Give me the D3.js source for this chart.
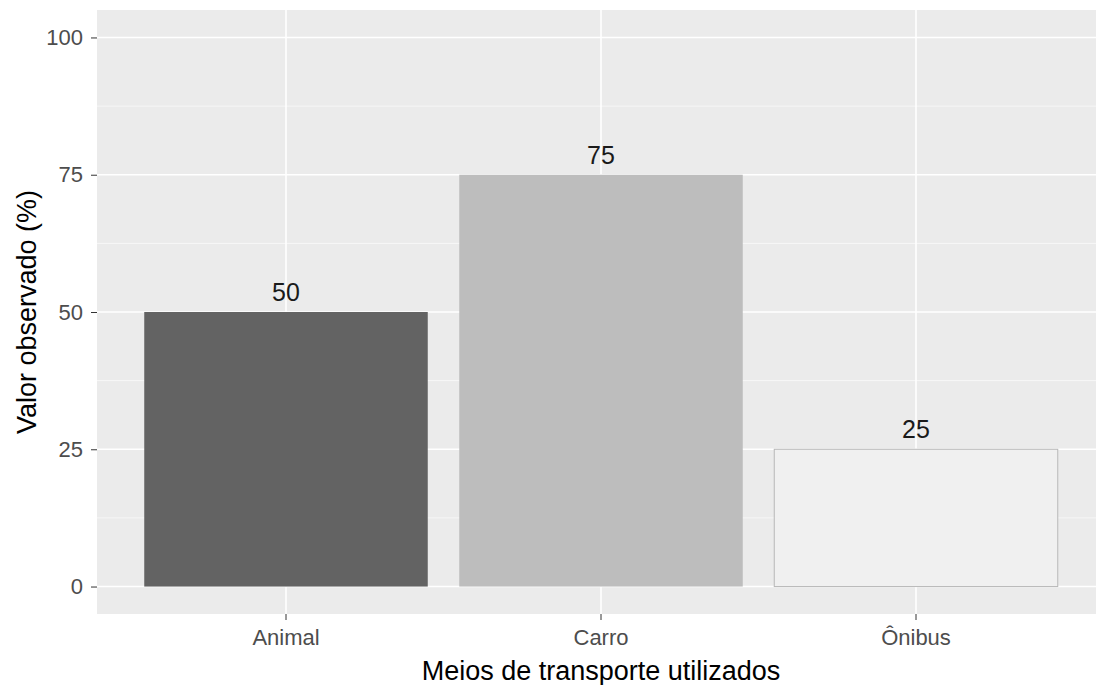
<!DOCTYPE html>
<html><head><meta charset="utf-8">
<script src="https://cdn.jsdelivr.net/npm/d3@7"></script>
<style>body{margin:0;background:#fff;}svg{display:block;font-family:"Liberation Sans",Arial,sans-serif;}</style>
</head><body>
<svg id="c" width="1096" height="685"></svg>
<script>
const categories = ["Animal", "Carro", "Ônibus"];
const values = [50, 75, 25];
const yTicks = [0, 25, 50, 75, 100];
const yMinor = [12.5, 37.5, 62.5, 87.5];
const fills = ["#636363", "#bdbdbd", "#f0f0f0"];
const xTitle = "Meios de transporte utilizados";
const yTitle = "Valor observado (%)";

const svg = d3.select("#c");
const L = 97, T = 10, B = 614, R = 1105;
const y = d3.scaleLinear().domain([-5, 105]).range([B, T]);
const step = (R - L) / 3.2;
const x = d3.scaleBand().domain(categories).range([L + 0.1 * step, R - 0.1 * step]).paddingInner(0.1).paddingOuter(0.05);

svg.append("rect").attr("x", L).attr("y", T).attr("width", R - L).attr("height", B - T).attr("fill", "#ebebeb");
const g = svg.append("g");
g.selectAll(".mn").data(yMinor).join("line").attr("x1", L).attr("x2", R)
  .attr("y1", d => y(d)).attr("y2", d => y(d)).attr("stroke", "#fff").attr("stroke-width", 0.8).attr("opacity", 0.8);
g.selectAll(".mj").data(yTicks).join("line").attr("x1", L).attr("x2", R)
  .attr("y1", d => y(d)).attr("y2", d => y(d)).attr("stroke", "#fff").attr("stroke-width", 1.6);
g.selectAll(".vx").data(categories).join("line").attr("y1", T).attr("y2", B)
  .attr("x1", d => x(d) + x.bandwidth() / 2).attr("x2", d => x(d) + x.bandwidth() / 2).attr("stroke", "#fff").attr("stroke-width", 1.6);

svg.selectAll(".bar").data(categories).join("rect")
  .attr("x", d => x(d)).attr("width", x.bandwidth())
  .attr("y", (d, i) => y(values[i])).attr("height", (d, i) => y(0) - y(values[i]))
  .attr("fill", (d, i) => fills[i])
  .attr("stroke", (d, i) => i === 2 ? "#b8b8b8" : "none").attr("stroke-width", 1);

svg.selectAll(".lbl").data(categories).join("text")
  .attr("x", d => x(d) + x.bandwidth() / 2).attr("y", (d, i) => y(values[i]) - 11)
  .attr("text-anchor", "middle").attr("font-size", 25).attr("fill", "#1a1a1a")
  .text((d, i) => values[i]);

const ya = svg.append("g").attr("transform", `translate(${L},0)`)
  .call(d3.axisLeft(y).tickValues(yTicks).tickSize(6).tickPadding(8));
ya.select(".domain").remove();
ya.selectAll("line").attr("stroke", "#333");
ya.selectAll("text").attr("font-size", 22).attr("fill", "#4d4d4d").attr("font-family", "Liberation Sans, Arial, sans-serif");

const xa = svg.append("g").attr("transform", `translate(0,${B})`)
  .call(d3.axisBottom(x).tickSize(6).tickPadding(9));
xa.select(".domain").remove();
xa.selectAll("line").attr("stroke", "#333");
xa.selectAll("text").attr("font-size", 22).attr("fill", "#4d4d4d").attr("font-family", "Liberation Sans, Arial, sans-serif");

svg.append("text").attr("x", (L + R) / 2).attr("y", 680).attr("text-anchor", "middle")
  .attr("font-size", 27).attr("fill", "#000").text(xTitle);
svg.append("text").attr("transform", `translate(36,${(T + B) / 2}) rotate(-90)`).attr("text-anchor", "middle")
  .attr("font-size", 27).attr("fill", "#000").text(yTitle);
</script>
</body></html>
